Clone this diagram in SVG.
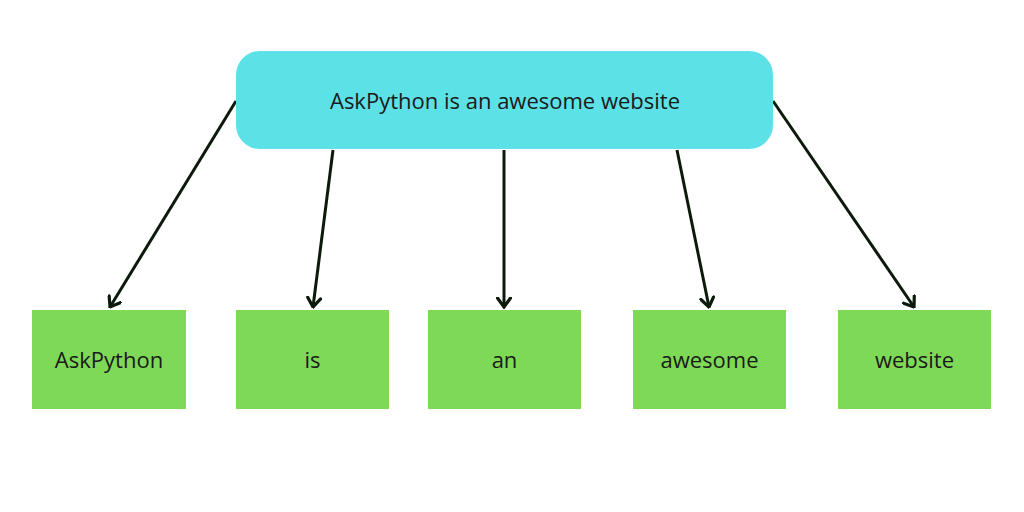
<svg xmlns="http://www.w3.org/2000/svg" width="1024" height="512" viewBox="0 0 1024 512">
<style>
.word{fill:#7ed957}
.root{fill:#5ce1e6}
.lbl{font-family:"Open Sans","Liberation Sans",sans-serif;font-size:22px;fill:#1a1a1a;text-anchor:middle;dominant-baseline:central}
.edge{stroke:#0c1a0c;stroke-width:3;fill:none;marker-end:url(#ah)}
</style>
<defs>
<marker id="ah" viewBox="0 0 12 16" refX="10.5" refY="8" markerWidth="12" markerHeight="16" markerUnits="userSpaceOnUse" orient="auto">
<path d="M1.5,1.5 L10.5,8 L1.5,14.5" fill="none" stroke="#0c1a0c" stroke-width="3.2" stroke-linecap="round" stroke-linejoin="miter"/>
</marker>
</defs>
<rect width="1024" height="512" fill="#ffffff"/>
<g id="connectors">
<line class="edge" x1="236" y1="101" x2="110" y2="307"/>
<line class="edge" x1="333" y1="150" x2="313" y2="307"/>
<line class="edge" x1="504" y1="150" x2="504" y2="307"/>
<line class="edge" x1="677" y1="150" x2="709" y2="307"/>
<line class="edge" x1="773" y1="101" x2="914" y2="307"/>
</g>
<g id="root">
<rect class="root" x="236" y="51" width="537" height="98" rx="24"/>
<text class="lbl" x="505" y="100">AskPython is an awesome website</text>
</g>
<g id="w1">
<rect class="word" x="32" y="310" width="154" height="99"/>
<text class="lbl" x="109" y="359">AskPython</text>
</g>
<g id="w2">
<rect class="word" x="236" y="310" width="153" height="99"/>
<text class="lbl" x="312.5" y="359">is</text>
</g>
<g id="w3">
<rect class="word" x="428" y="310" width="153" height="99"/>
<text class="lbl" x="504.5" y="359">an</text>
</g>
<g id="w4">
<rect class="word" x="633" y="310" width="153" height="99"/>
<text class="lbl" x="709.5" y="359">awesome</text>
</g>
<g id="w5">
<rect class="word" x="838" y="310" width="153" height="99"/>
<text class="lbl" x="914.5" y="359">website</text>
</g>
</svg>
